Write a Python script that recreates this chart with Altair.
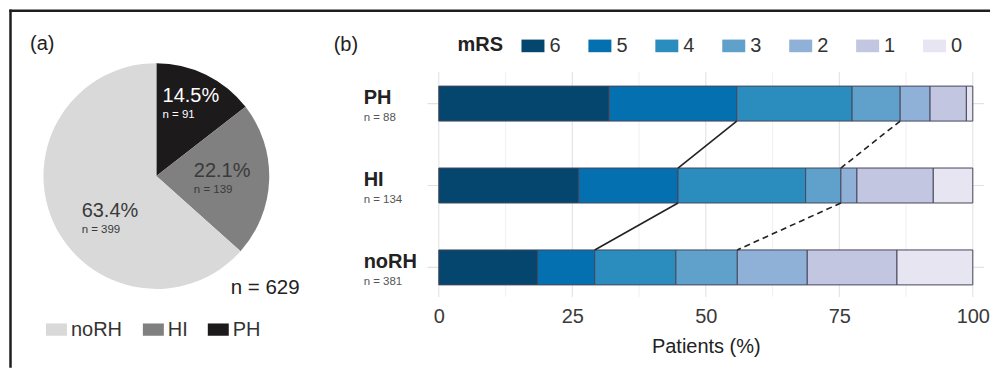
import math
import altair as alt
import pandas as pd

# ---------------- data ----------------
PIE_GROUPS = ["PH", "HI", "noRH"]
PIE_PCT = [14.5, 22.1, 63.4]
PIE_N = [91, 139, 399]
TOTAL_N = 629

BAR_GROUPS = ["PH", "HI", "noRH"]
BAR_N = [88, 134, 381]
MRS = ["6", "5", "4", "3", "2", "1", "0"]
PH_PCT = [31.9, 23.9, 21.6, 9.0, 5.6, 6.8, 1.2]
HI_PCT = [26.2, 18.6, 23.9, 6.6, 3.0, 14.3, 7.4]
NORH_PCT = [18.5, 10.7, 15.2, 11.5, 13.1, 16.8, 14.2]
X_TICKS = [0, 25, 50, 75, 100]
GRID_STEP = 12.5

# ---------------- style / layout ----------------
FONT = "Liberation Sans"
PIE_LEGEND_ORDER = ["noRH", "HI", "PH"]
PIE_COLORS = ["#d9d9d9", "#808080", "#1d1a1b"]
MRS_COLORS = ["#05466f", "#0570b0", "#2b8cbe", "#5fa1ca", "#8fb1d7", "#c2c6e0", "#e6e5f1"]
BAR_STROKE = "#46465c"
FRAME = "#1e1e1e"

W1, H1 = 419, 289          # left (pie) panel
CX, CY, R = 147.5, 168, 113
LABEL_R = [79.5, 68.7, 62.6]        # label anchor radius per slice
LABEL_DTHETA = [1.8, 2.0, -21.5]    # small angular nudge per slice (deg)

W2, H2 = 557, 289          # right (bar) panel
XDOM = [-2.1, 102.1]
STEP = 82.0                # px between bar rows
BOTTOM_GAP = 29.5          # px from last bar centre to panel bottom
PLOT_TOP = 64.0            # px, top of grid area
BAR_H = 35.0               # px

# ---------------- pie panel ----------------
pie_df = pd.DataFrame({"group": PIE_GROUPS, "pct": PIE_PCT, "n": PIE_N})
pie_df["rank"] = range(len(pie_df))
pie_df["pct_label"] = pie_df["pct"].map(lambda v: f"{v:.1f}%")
pie_df["n_label"] = pie_df["n"].map(lambda v: f"n = {v}")
cum = pie_df["pct"].cumsum()
mid = (cum - pie_df["pct"] / 2) / pie_df["pct"].sum() * 360 + pd.Series(LABEL_DTHETA)
rad = mid.map(math.radians)
pie_df["lx"] = CX + pd.Series(LABEL_R) * rad.map(math.sin)
pie_df["ly"] = CY - pd.Series(LABEL_R) * rad.map(math.cos)

arc = alt.Chart(pie_df).mark_arc(outerRadius=R).encode(
    theta=alt.Theta("pct:Q", stack=True),
    order=alt.Order("rank:Q"),
    x=alt.value(CX),
    y=alt.value(CY),
    color=alt.Color(
        "group:N",
        scale=alt.Scale(domain=PIE_LEGEND_ORDER, range=PIE_COLORS),
        legend=alt.Legend(
            orient="none", legendX=37, legendY=311, direction="horizontal",
            title=None, labelFontSize=20, labelFont=FONT, labelColor="#333333",
            symbolType="M-1,-0.586H1V0.586H-1Z", symbolSize=441,
            symbolStrokeWidth=0, symbolOpacity=1, labelOffset=4,
            columnPadding=20, padding=0,
        ),
    ),
)

txt_color = alt.condition(alt.datum.group == "PH", alt.value("#ffffff"), alt.value("#3a3a3a"))
pct_text = alt.Chart(pie_df).mark_text(
    align="left", baseline="alphabetic", dx=-31, dy=-4, fontSize=20, font=FONT
).encode(
    x=alt.X("lx:Q", scale=None), y=alt.Y("ly:Q", scale=None),
    text="pct_label:N", color=txt_color,
)
n_text = alt.Chart(pie_df).mark_text(
    align="left", baseline="alphabetic", dx=-31, dy=12.5, fontSize=11.5, font=FONT
).encode(
    x=alt.X("lx:Q", scale=None), y=alt.Y("ly:Q", scale=None),
    text="n_label:N", color=txt_color,
)

one = pd.DataFrame({"k": [0]})
frame_v = alt.Chart(one).mark_rule(color=FRAME, strokeWidth=2.5).encode(
    x=alt.value(1.5), y=alt.value(1.3), y2=alt.value(360))
frame_h = alt.Chart(one).mark_rule(color=FRAME, strokeWidth=2.5).encode(
    x=alt.value(0.3), x2=alt.value(982), y=alt.value(2.5))
a_label = alt.Chart(one).mark_text(
    align="left", baseline="alphabetic", fontSize=20, font=FONT, color="#222222"
).encode(x=alt.value(21), y=alt.value(42), text=alt.value("(a)"))
total_label = alt.Chart(one).mark_text(
    align="left", baseline="alphabetic", fontSize=20.5, font=FONT, color="#222222"
).encode(x=alt.value(222), y=alt.value(286), text=alt.value(f"n = {TOTAL_N}"))

left = alt.layer(frame_v, frame_h, arc, pct_text, n_text, a_label, total_label).properties(
    width=W1, height=H1)

# ---------------- bar panel ----------------
series = {"PH": PH_PCT, "HI": HI_PCT, "noRH": NORH_PCT}
ypos = {g: len(BAR_GROUPS) - i for i, g in enumerate(BAR_GROUPS)}   # PH top
half = BAR_H / 2 / STEP
y_min = 1 - BOTTOM_GAP / STEP
y_max = y_min + H2 / STEP
y_top = y_max - PLOT_TOP / STEP

rows = []
cums = {}
for g in BAR_GROUPS:
    c = 0.0
    cl = [0.0]
    for m, v in zip(MRS, series[g]):
        rows.append({"group": g, "mRS": m, "start": c, "end": c + v,
                     "y0": ypos[g] - half, "y1": ypos[g] + half})
        c += v
        cl.append(c)
    cums[g] = cl
bar_df = pd.DataFrame(rows)

# connectors: solid after the mRS 5 segment, dashed after the mRS 3 segment
conn = []
for up, lo in zip(BAR_GROUPS[:-1], BAR_GROUPS[1:]):
    for k, style in [(2, "solid"), (4, "dashed")]:
        conn.append({"style": style, "x": cums[up][k], "y": ypos[up] - half,
                     "x2": cums[lo][k], "y2": ypos[lo] + half})
conn_df = pd.DataFrame(conn)

grid_vals = [i * GRID_STEP for i in range(int(100 / GRID_STEP) + 1)]
grid_df = pd.DataFrame({"x": grid_vals,
                        "major": [v in X_TICKS for v in grid_vals],
                        "ya": y_min, "yb": y_top})
hgrid_df = pd.DataFrame({"y": [ypos[g] for g in BAR_GROUPS], "xa": XDOM[0], "xb": XDOM[1]})

lab_df = pd.DataFrame({"group": BAR_GROUPS, "y": [ypos[g] for g in BAR_GROUPS],
                       "n_label": [f"n = {n}" for n in BAR_N]})

xs = alt.Scale(domain=XDOM, nice=False, zero=False)
ys = alt.Scale(domain=[y_min, y_max], nice=False, zero=False)
xaxis = alt.Axis(
    values=X_TICKS, title="Patients (%)", grid=False, domain=False, ticks=False,
    labelFontSize=20, labelColor="#3a3a3a", labelPadding=10, labelFont=FONT,
    titleFontSize=20, titleFontWeight="normal", titleColor="#222222",
    titlePadding=10, titleFont=FONT)

vgrid_minor = alt.Chart(grid_df).transform_filter("!datum.major").mark_rule(
    color="#ebebeb", strokeWidth=0.7).encode(
    x=alt.X("x:Q", scale=xs, axis=xaxis, title="Patients (%)"),
    y=alt.Y("ya:Q", scale=ys, axis=None), y2="yb:Q")
vgrid_major = alt.Chart(grid_df).transform_filter("datum.major").mark_rule(
    color="#e2e2e2", strokeWidth=1.1).encode(
    x=alt.X("x:Q", scale=xs, axis=xaxis, title="Patients (%)"),
    y=alt.Y("ya:Q", scale=ys, axis=None), y2="yb:Q")
hgrid = alt.Chart(hgrid_df).mark_rule(color="#e2e2e2", strokeWidth=1.1).encode(
    x=alt.X("xa:Q", scale=xs, axis=xaxis, title="Patients (%)"), x2="xb:Q",
    y=alt.Y("y:Q", scale=ys, axis=None))

bars = alt.Chart(bar_df).mark_rect(stroke=BAR_STROKE, strokeWidth=1).encode(
    x=alt.X("start:Q", scale=xs, axis=xaxis, title="Patients (%)"),
    x2="end:Q",
    y=alt.Y("y0:Q", scale=ys, axis=None), y2="y1:Q",
    color=alt.Color(
        "mRS:N",
        scale=alt.Scale(domain=MRS, range=MRS_COLORS),
        legend=alt.Legend(
            orient="none", legendX=30, legendY=26, direction="horizontal",
            title="mRS", titleOrient="left", titleFontSize=20, titleFontWeight="bold",
            titleColor="#222222", titleFont=FONT, titlePadding=18,
            labelFontSize=20, labelFont=FONT, labelColor="#333333",
            symbolType="M-1,-0.55H1V0.55H-1Z", symbolSize=529,
            symbolStrokeWidth=0, symbolOpacity=1, labelOffset=5,
            columnPadding=27, padding=0,
        ),
    ),
    order=alt.Order("start:Q"),
)

conn_solid = alt.Chart(conn_df).transform_filter("datum.style == 'solid'").mark_rule(
    color="#222222", strokeWidth=1.6).encode(
    x=alt.X("x:Q", scale=xs, axis=xaxis, title="Patients (%)"), x2="x2:Q",
    y=alt.Y("y:Q", scale=ys, axis=None), y2="y2:Q")
conn_dash = alt.Chart(conn_df).transform_filter("datum.style == 'dashed'").mark_rule(
    color="#222222", strokeWidth=1.6, strokeDash=[6, 4]).encode(
    x=alt.X("x:Q", scale=xs, axis=xaxis, title="Patients (%)"), x2="x2:Q",
    y=alt.Y("y:Q", scale=ys, axis=None), y2="y2:Q")

cat_text = alt.Chart(lab_df).mark_text(
    align="left", baseline="alphabetic", fontSize=20, fontWeight="bold",
    font=FONT, color="#222222", dy=0.5).encode(
    x=alt.value(-64), y=alt.Y("y:Q", scale=ys, axis=None), text="group:N")
catn_text = alt.Chart(lab_df).mark_text(
    align="left", baseline="alphabetic", fontSize=11.5,
    font=FONT, color="#555555", dy=17.2).encode(
    x=alt.value(-64), y=alt.Y("y:Q", scale=ys, axis=None), text="n_label:N")
b_label = alt.Chart(one).mark_text(
    align="left", baseline="alphabetic", fontSize=20, font=FONT, color="#222222"
).encode(x=alt.value(-94), y=alt.value(43), text=alt.value("(b)"))

right = alt.layer(vgrid_minor, vgrid_major, hgrid, bars, conn_solid, conn_dash,
                  cat_text, catn_text, b_label).properties(width=W2, height=H2)

chart = (
    alt.hconcat(left, right, spacing=0)
    .properties(padding=0, bounds="flush")
    .resolve_scale(color="independent")
    .resolve_legend(color="independent")
    .configure(font=FONT)
    .configure_view(stroke=None)
)

chart.save("out.html", embed_options={"renderer": "svg", "actions": False})
